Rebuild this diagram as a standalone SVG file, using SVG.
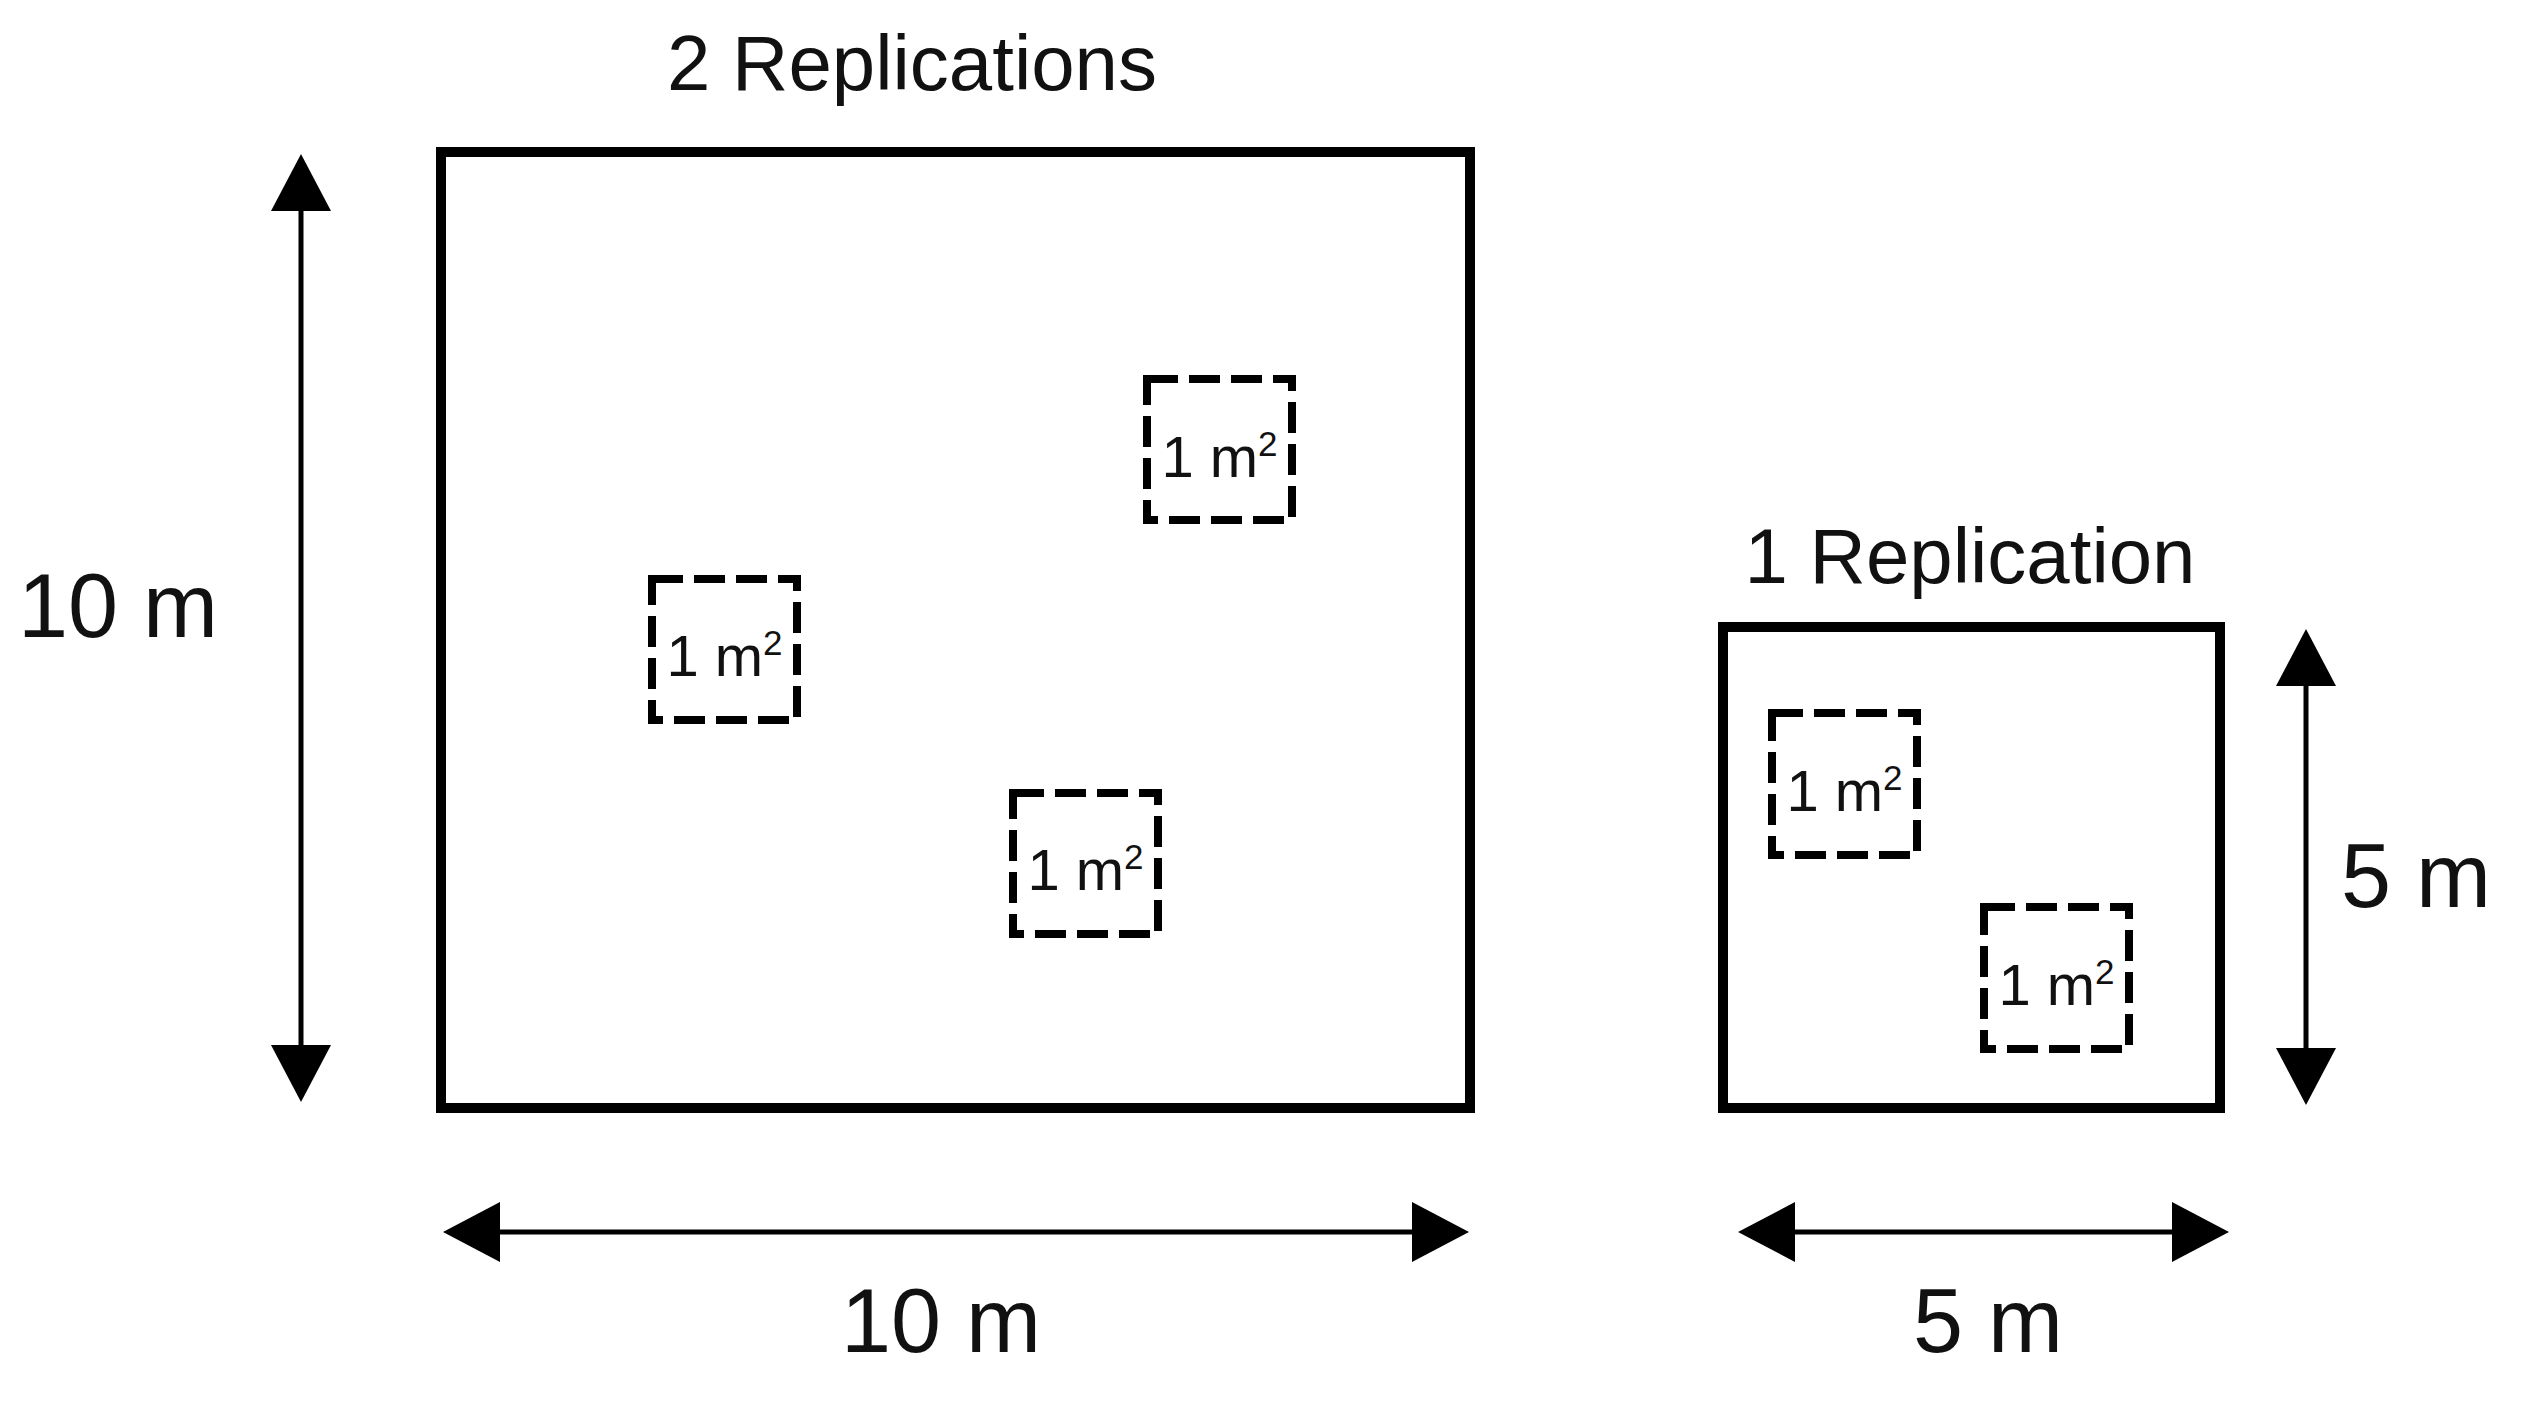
<svg xmlns="http://www.w3.org/2000/svg" width="2531" height="1402" viewBox="0 0 2531 1402">
<style>
.plot{fill:none;stroke:#000;stroke-width:10}
.quad{fill:none;stroke:#000;stroke-width:8;stroke-dasharray:31 11}
.lbl{font-family:"Liberation Sans",Arial,sans-serif;font-size:78px;fill:#111;text-anchor:middle}
.dim{font-family:"Liberation Sans",Arial,sans-serif;font-size:90px;fill:#111;text-anchor:middle}
.q{font-family:"Liberation Sans",Arial,sans-serif;font-size:58px;fill:#111;text-anchor:middle}
.sup{font-size:35px}
.arr{stroke:#000;stroke-width:5;fill:none;marker-start:url(#ah);marker-end:url(#ah)}
</style>
<defs>
<marker id="ah" markerUnits="userSpaceOnUse" markerWidth="57" markerHeight="60" viewBox="0 0 57 60" refX="1" refY="30" orient="auto-start-reverse">
<path d="M0,0 L57,30 L0,60 Z" fill="#000"/>
</marker>
</defs>
<rect width="2531" height="1402" fill="#fff"/>
<g id="plot-large">
<rect class="plot" x="441" y="152" width="1029" height="956"/>
<text class="lbl" x="912" y="90">2 Replications</text>
</g>
<g id="plot-small">
<rect class="plot" x="1723" y="627" width="497" height="481"/>
<text class="lbl" x="1970" y="583">1 Replication</text>
</g>
<g id="quadrat-1">
<rect class="quad" x="1147" y="379" width="145" height="141"/>
<text class="q" x="1219.5" y="477">1 m<tspan class="sup" dy="-21">2</tspan></text>
</g>
<g id="quadrat-2">
<rect class="quad" x="652" y="579" width="145" height="141"/>
<text class="q" x="724.5" y="676">1 m<tspan class="sup" dy="-21">2</tspan></text>
</g>
<g id="quadrat-3">
<rect class="quad" x="1013" y="793" width="145" height="141"/>
<text class="q" x="1085.5" y="890">1 m<tspan class="sup" dy="-21">2</tspan></text>
</g>
<g id="quadrat-4">
<rect class="quad" x="1772" y="713" width="145" height="142"/>
<text class="q" x="1844.5" y="811">1 m<tspan class="sup" dy="-21">2</tspan></text>
</g>
<g id="quadrat-5">
<rect class="quad" x="1984" y="907" width="145" height="142"/>
<text class="q" x="2056.5" y="1005">1 m<tspan class="sup" dy="-21">2</tspan></text>
</g>
<g id="connectors">
<line class="arr" x1="301" y1="210" x2="301" y2="1046"/>
<line class="arr" x1="499" y1="1232" x2="1413" y2="1232"/>
<line class="arr" x1="1794" y1="1232" x2="2173" y2="1232"/>
<line class="arr" x1="2306" y1="685" x2="2306" y2="1049"/>
</g>
<g id="labels">
<text class="dim" x="118" y="637">10 m</text>
<text class="dim" x="941" y="1352">10 m</text>
<text class="dim" x="2416" y="907">5 m</text>
<text class="dim" x="1988" y="1352">5 m</text>
</g>
</svg>
